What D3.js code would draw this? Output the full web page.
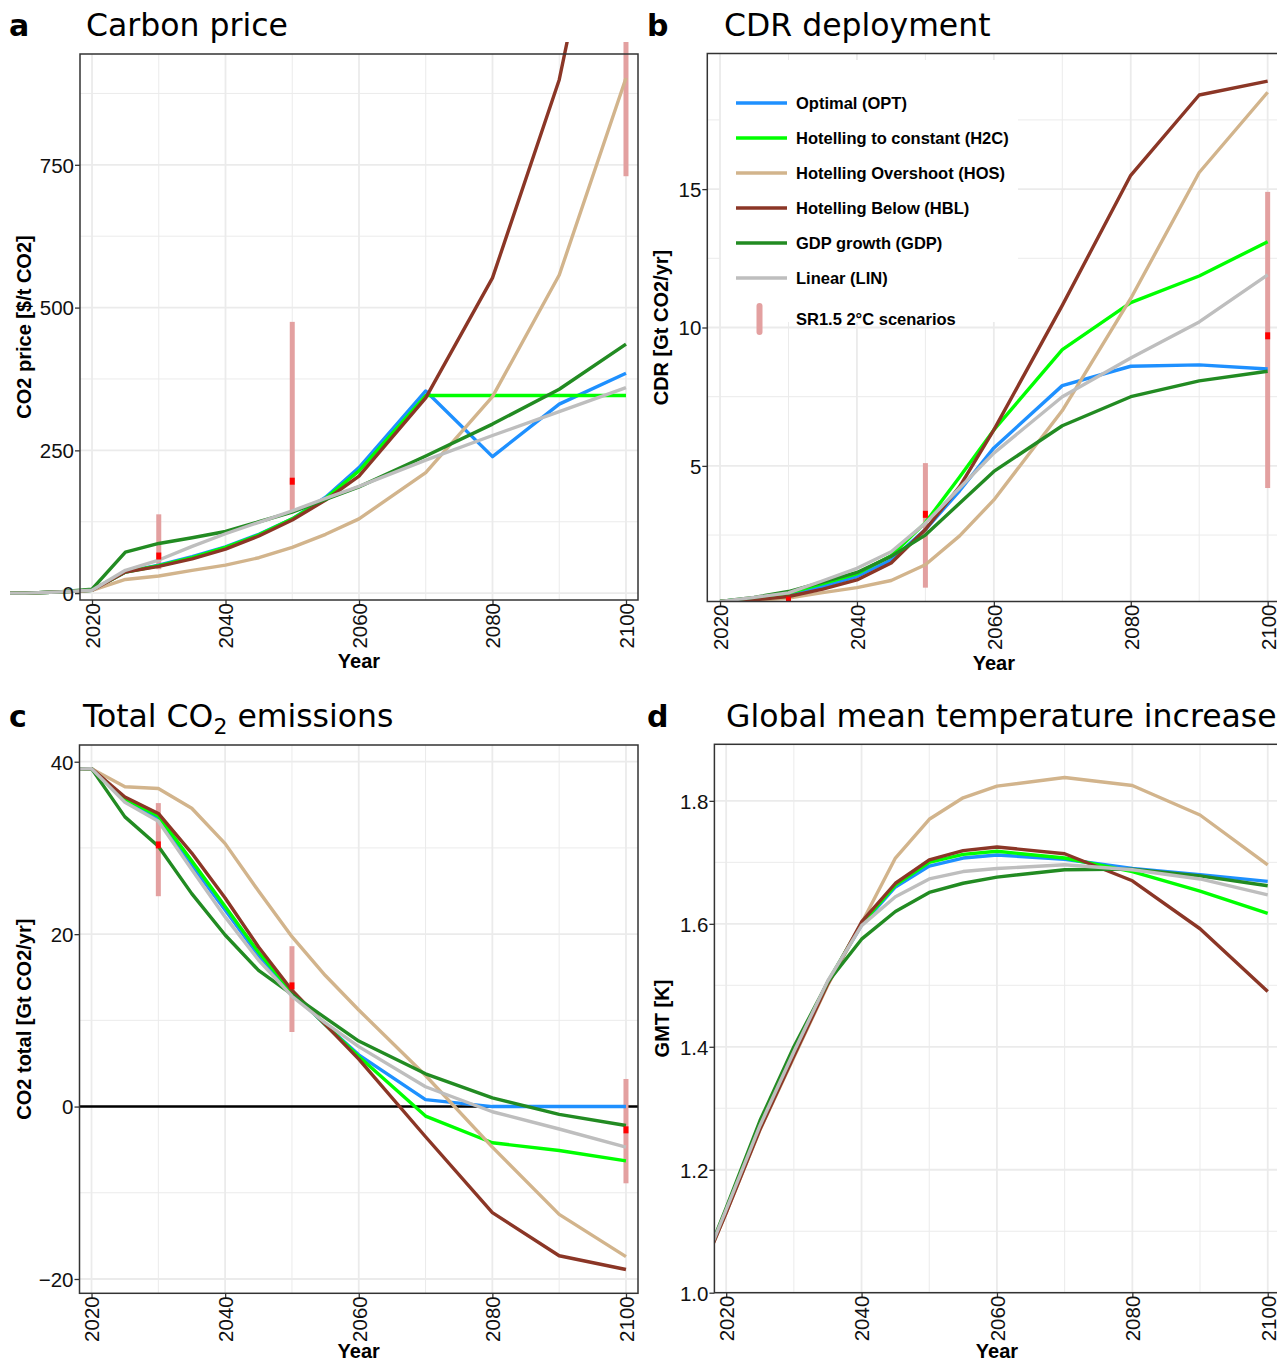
<!DOCTYPE html>
<html>
<head>
<meta charset="utf-8">
<script src="https://cdn.jsdelivr.net/npm/d3@7"></script>
<style>
  body { margin: 0; background: #fff; }
  svg { display: block; }
</style>
</head>
<body>
<svg id="chart" width="1277" height="1363"></svg>
<script>
// ---- data ----
const seriesNames = ["Optimal (OPT)", "Hotelling to constant (H2C)", "Hotelling Overshoot (HOS)",
                     "Hotelling Below (HBL)", "GDP growth (GDP)", "Linear (LIN)"];
const seriesColors = ["#1e90ff", "#00ff00", "#d2b48c", "#8b3626", "#228b22", "#bebebe"];

// a: carbon price [$/t CO2]
const priceYears = [2005, 2010, 2015, 2020, 2025, 2030, 2035, 2040, 2045, 2050, 2055, 2060, 2070, 2080, 2090, 2100];
const priceOPT = [0, 0, 2, 5, 37, 49, 64, 81, 103, 130, 168, 220, 354, 239, 331, 385];
const priceH2C = [0, 0, 2, 5, 37, 48, 62, 80, 102, 130, 166, 214, 346, 346, 346, 346];
const priceHOS = [0, 0, 2, 5, 24, 30, 40, 49, 62, 80, 103, 130, 211, 344, 557, 902];
const priceHBL = [0, 0, 2, 5, 37, 47, 60, 77, 100, 128, 163, 205, 342, 552, 899, 1460];
const priceGDP = [0, 0, 2, 7, 72, 87, 97, 108, 125, 142, 164, 186, 240, 296, 357, 436];
const priceLIN = [0, 0, 2, 5, 40, 58, 82, 104, 124, 144, 166, 187, 233, 276, 318, 360];

// b: CDR [Gt CO2/yr]
const cdrYears = [2020, 2025, 2030, 2035, 2040, 2045, 2050, 2055, 2060, 2070, 2080, 2090, 2100];
const cdrOPT = [0.1, 0.22, 0.36, 0.65, 1.0, 1.6, 2.7, 4.1, 5.65, 7.9, 8.6, 8.65, 8.5];
const cdrH2C = [0.1, 0.23, 0.4, 0.75, 1.1, 1.75, 2.95, 4.6, 6.3, 9.2, 10.9, 11.86, 13.1];
const cdrHOS = [0.1, 0.15, 0.22, 0.42, 0.6, 0.86, 1.43, 2.47, 3.77, 7.0, 11.05, 15.6, 18.5];
const cdrHBL = [0.1, 0.16, 0.28, 0.55, 0.88, 1.49, 2.7, 4.25, 6.3, 10.8, 15.5, 18.4, 18.9];
const cdrGDP = [0.1, 0.25, 0.46, 0.8, 1.15, 1.73, 2.5, 3.65, 4.8, 6.45, 7.5, 8.07, 8.42];
const cdrLIN = [0.1, 0.25, 0.41, 0.85, 1.3, 1.9, 2.93, 4.2, 5.46, 7.5, 8.9, 10.2, 11.9];

// c: total CO2 emissions [Gt CO2/yr]
const emisYears = [2015, 2020, 2025, 2030, 2035, 2040, 2045, 2050, 2055, 2060, 2070, 2080, 2090, 2100];
const emisOPT = [39.1, 39.2, 35.6, 33.4, 28.0, 22.8, 17.5, 13.2, 9.5, 6.0, 0.8, 0.0, 0.0, 0.0];
const emisH2C = [39.1, 39.2, 35.7, 33.7, 28.5, 23.2, 17.9, 13.3, 9.5, 5.8, -1.1, -4.2, -5.1, -6.3];
const emisHOS = [39.1, 39.2, 37.1, 36.9, 34.6, 30.5, 25.0, 19.7, 15.2, 11.2, 3.6, -4.7, -12.5, -17.4];
const emisHBL = [39.1, 39.2, 35.9, 34.0, 29.4, 24.2, 18.5, 13.5, 9.5, 5.5, -3.5, -12.3, -17.3, -18.9];
const emisGDP = [39.1, 39.2, 33.6, 30.2, 24.7, 19.9, 15.8, 13.0, 10.3, 7.6, 3.8, 1.0, -0.9, -2.2];
const emisLIN = [39.1, 39.2, 35.3, 33.1, 27.5, 22.0, 17.0, 12.8, 9.7, 6.95, 2.3, -0.6, -2.6, -4.7];

// d: global mean temperature [K]
const tempYears = [2015, 2020, 2025, 2030, 2035, 2040, 2045, 2050, 2055, 2060, 2070, 2080, 2090, 2100];
const tempOPT = [1.0, 1.133, 1.27, 1.39, 1.505, 1.598, 1.66, 1.694, 1.707, 1.712, 1.705, 1.690, 1.680, 1.669];
const tempH2C = [1.0, 1.133, 1.27, 1.39, 1.505, 1.600, 1.663, 1.700, 1.713, 1.718, 1.707, 1.685, 1.653, 1.617];
const tempHOS = [1.0, 1.130, 1.265, 1.383, 1.500, 1.601, 1.707, 1.770, 1.805, 1.824, 1.838, 1.825, 1.777, 1.696];
const tempHBL = [1.0, 1.130, 1.266, 1.385, 1.502, 1.603, 1.666, 1.704, 1.719, 1.725, 1.714, 1.670, 1.592, 1.490];
const tempGDP = [1.0, 1.138, 1.28, 1.40, 1.505, 1.575, 1.620, 1.651, 1.666, 1.676, 1.688, 1.689, 1.678, 1.662];
const tempLIN = [1.0, 1.135, 1.272, 1.392, 1.507, 1.597, 1.644, 1.673, 1.685, 1.690, 1.696, 1.688, 1.673, 1.647];

// SR1.5 2°C scenario ranges (low / high / median)
const srYears = [2030, 2050, 2100];
const srPriceLow = [42, 145, 730], srPriceHigh = [138, 475, 1500], srPriceMed = [65, 196, 1100];
const srCdrLow = [0, 0.6, 4.2], srCdrHigh = [0.4, 5.1, 14.9], srCdrMed = [0.15, 3.25, 9.7];
const srEmisLow = [24.4, 8.65, -8.9], srEmisHigh = [35.2, 18.6, 3.2], srEmisMed = [30.35, 14.0, -2.7];

const yearTicks = [2020, 2040, 2060, 2080, 2100];
const yearMinor = [2030, 2050, 2070, 2090];

// ---- drawing ----
const svg = d3.select("#chart");
const defs = svg.append("defs");
const tickFont = "'Liberation Sans', Arial, sans-serif";
const titleFont = "'DejaVu Sans', sans-serif";

function drawPanel(p) {
  const x = d3.scaleLinear().domain(p.xDomain).range([p.left, p.right]);
  const y = d3.scaleLinear().domain(p.yDomain).range([p.bottom, p.top]);
  const g = svg.append("g");

  // grid
  const grid = g.append("g");
  grid.selectAll("line.ymin").data(p.yMinor).enter().append("line")
    .attr("x1", p.left).attr("x2", p.right)
    .attr("y1", d => y(d)).attr("y2", d => y(d))
    .attr("stroke", "#ebebeb").attr("stroke-width", 1);
  grid.selectAll("line.xmin").data(yearMinor).enter().append("line")
    .attr("x1", d => x(d)).attr("x2", d => x(d))
    .attr("y1", p.top).attr("y2", p.bottom)
    .attr("stroke", "#ebebeb").attr("stroke-width", 1);
  grid.selectAll("line.ymaj").data(p.yTicks).enter().append("line")
    .attr("x1", p.left).attr("x2", p.right)
    .attr("y1", d => y(d)).attr("y2", d => y(d))
    .attr("stroke", "#ebebeb").attr("stroke-width", 1.8);
  grid.selectAll("line.xmaj").data(yearTicks).enter().append("line")
    .attr("x1", d => x(d)).attr("x2", d => x(d))
    .attr("y1", p.top).attr("y2", p.bottom)
    .attr("stroke", "#ebebeb").attr("stroke-width", 1.8);

  if (p.zeroLine) {
    g.append("line")
      .attr("x1", p.left).attr("x2", p.right)
      .attr("y1", y(0)).attr("y2", y(0))
      .attr("stroke", "#000").attr("stroke-width", 2.6);
  }

  const clipId = "clip-" + p.letter;
  defs.append("clipPath").attr("id", clipId).append("rect")
    .attr("x", p.clip[0]).attr("y", p.clip[1])
    .attr("width", p.clip[2] - p.clip[0]).attr("height", p.clip[3] - p.clip[1]);
  const plot = g.append("g").attr("clip-path", `url(#${clipId})`);

  // SR1.5 ranges under the lines
  if (p.sr) {
    plot.selectAll("rect.srbar").data(srYears).enter().append("rect")
      .attr("x", d => x(d) - 2.5).attr("width", 5)
      .attr("y", (d, i) => y(p.sr.high[i]))
      .attr("height", (d, i) => y(p.sr.low[i]) - y(p.sr.high[i]))
      .attr("fill", "#e3a0a0");
  }

  const line = d3.line().x(d => x(d[0])).y(d => y(d[1]));
  plot.selectAll("path.series").data(p.series).enter().append("path")
    .attr("d", vals => line(p.years.map((yr, i) => [yr, vals[i]])))
    .attr("fill", "none")
    .attr("stroke", (d, i) => seriesColors[i])
    .attr("stroke-width", 3.4)
    .attr("stroke-linejoin", "round");

  if (p.sr) {
    plot.selectAll("rect.srmed").data(srYears).enter().append("rect")
      .attr("x", d => x(d) - 2.5).attr("width", 5)
      .attr("y", (d, i) => y(p.sr.med[i]) - 3.5).attr("height", 7)
      .attr("fill", "#ff0000");
  }

  // border
  g.append("rect")
    .attr("x", p.left).attr("y", p.top)
    .attr("width", p.right - p.left).attr("height", p.bottom - p.top)
    .attr("fill", "none").attr("stroke", "#333").attr("stroke-width", 1.5);

  // axes
  const yAxis = g.append("g").attr("transform", `translate(${p.left},0)`)
    .call(d3.axisLeft(y).tickValues(p.yTicks).tickSize(5).tickPadding(1).tickFormat(p.fmt));
  const xAxis = g.append("g").attr("transform", `translate(0,${p.bottom})`)
    .call(d3.axisBottom(x).tickValues(yearTicks).tickSize(5).tickFormat(d3.format("d")));
  [yAxis, xAxis].forEach(a => {
    a.select(".domain").remove();
    a.selectAll(".tick line").attr("stroke", "#333").attr("stroke-width", 1.3);
    a.selectAll(".tick text").attr("fill", "#111")
      .style("font-family", tickFont).style("font-size", "20.5px");
  });
  yAxis.selectAll(".tick text").attr("dy", "0.36em");
  xAxis.selectAll(".tick text")
    .attr("transform", "rotate(-90)")
    .attr("x", -3).attr("y", 0).attr("dy", "0.36em")
    .attr("text-anchor", "end");

  // axis titles
  g.append("text")
    .attr("transform", `translate(${p.yLabelX},${(p.top + p.bottom) / 2}) rotate(-90)`)
    .attr("text-anchor", "middle")
    .style("font-family", tickFont).style("font-size", "20px").style("font-weight", "bold")
    .text(p.yLabel);
  g.append("text")
    .attr("x", (p.left + p.right) / 2).attr("y", p.bottom + p.yearGap)
    .attr("text-anchor", "middle")
    .style("font-family", tickFont).style("font-size", "20px").style("font-weight", "bold")
    .text("Year");

  // panel letter and title
  svg.append("text")
    .attr("x", p.letterX).attr("y", p.titleY)
    .style("font-family", titleFont).style("font-size", "30px").style("font-weight", "bold")
    .text(p.letter);
  const t = svg.append("text")
    .attr("x", p.titleX).attr("y", p.titleY)
    .style("font-family", titleFont).style("font-size", "31.5px");
  p.title.forEach(part => {
    const ts = t.append("tspan").text(part.text);
    if (part.sub) ts.attr("dy", 7).style("font-size", "22px");
    if (part.after) ts.attr("dy", -7);
  });

  return { x, y };
}

drawPanel({
  letter: "a", letterX: 9, titleX: 86, titleY: 36,
  title: [{ text: "Carbon price" }],
  left: 80, right: 638, top: 54, bottom: 600, yearGap: 68,
  xDomain: [2018.2, 2101.8], yDomain: [-12, 944],
  yTicks: [0, 250, 500, 750], yMinor: [125, 375, 625, 875], fmt: d3.format("d"),
  clip: [10, 42, 640, 600],
  years: priceYears,
  series: [priceOPT, priceH2C, priceHOS, priceHBL, priceGDP, priceLIN],
  sr: { low: srPriceLow, high: srPriceHigh, med: srPriceMed },
  yLabel: "CO2 price [$/t CO2]", yLabelX: 31
});

drawPanel({
  letter: "b", letterX: 647, titleX: 724, titleY: 36,
  title: [{ text: "CDR deployment" }],
  left: 707.3, right: 1280.4, top: 53.5, bottom: 601.5, yearGap: 68,
  xDomain: [2018.14, 2101.86], yDomain: [0.1, 19.9],
  yTicks: [5, 10, 15], yMinor: [2.5, 7.5, 12.5, 17.5], fmt: d3.format("d"),
  clip: [707.3, 53.5, 1280.4, 601.5],
  years: cdrYears,
  series: [cdrOPT, cdrH2C, cdrHOS, cdrHBL, cdrGDP, cdrLIN],
  sr: { low: srCdrLow, high: srCdrHigh, med: srCdrMed },
  yLabel: "CDR [Gt CO2/yr]", yLabelX: 668
});

drawPanel({
  letter: "c", letterX: 9, titleX: 83, titleY: 727,
  title: [{ text: "Total CO" }, { text: "2", sub: true }, { text: " emissions", after: true }],
  left: 79.5, right: 638, top: 745, bottom: 1293.3, yearGap: 64.5,
  xDomain: [2018.2, 2101.8], yDomain: [-21.66, 41.94],
  yTicks: [-20, 0, 20, 40], yMinor: [-10, 10, 30], fmt: d => d < 0 ? "\u2212" + Math.abs(d) : String(d),
  clip: [79.5, 745, 638, 1293.3],
  zeroLine: true,
  years: emisYears,
  series: [emisOPT, emisH2C, emisHOS, emisHBL, emisGDP, emisLIN],
  sr: { low: srEmisLow, high: srEmisHigh, med: srEmisMed },
  yLabel: "CO2 total [Gt CO2/yr]", yLabelX: 31
});

drawPanel({
  letter: "d", letterX: 647, titleX: 726, titleY: 727,
  title: [{ text: "Global mean temperature increase" }],
  left: 714.4, right: 1279.5, top: 744.3, bottom: 1292.7, yearGap: 65,
  xDomain: [2018.26, 2101.74], yDomain: [1.0, 1.892],
  yTicks: [1.0, 1.2, 1.4, 1.6, 1.8], yMinor: [1.1, 1.3, 1.5, 1.7], fmt: d3.format(".1f"),
  clip: [714.4, 744.3, 1279.5, 1292.7],
  years: tempYears,
  series: [tempOPT, tempH2C, tempHOS, tempHBL, tempGDP, tempLIN],
  yLabel: "GMT [K]", yLabelX: 669
});

// legend inside panel b
const legend = svg.append("g");
legend.append("rect")
  .attr("x", 721).attr("y", 60).attr("width", 297).attr("height", 262)
  .attr("fill", "#fff");
const rowY = d3.scalePoint().domain(d3.range(seriesNames.length)).range([103, 278]);
const rows = legend.selectAll("g.row").data(seriesNames).enter().append("g")
  .attr("transform", (d, i) => `translate(0,${rowY(i)})`);
rows.append("line")
  .attr("x1", 736).attr("x2", 787).attr("y1", 0).attr("y2", 0)
  .attr("stroke", (d, i) => seriesColors[i]).attr("stroke-width", 3.6);
rows.append("text")
  .attr("x", 796).attr("dy", "0.36em")
  .style("font-family", tickFont).style("font-size", "16.5px").style("font-weight", "bold")
  .text(d => d);
legend.append("line")
  .attr("x1", 759.5).attr("x2", 759.5).attr("y1", 306).attr("y2", 332)
  .attr("stroke", "#e3a0a0").attr("stroke-width", 6).attr("stroke-linecap", "round");
legend.append("text")
  .attr("x", 796).attr("y", 319).attr("dy", "0.36em")
  .style("font-family", tickFont).style("font-size", "16.5px").style("font-weight", "bold")
  .text("SR1.5 2°C scenarios");
</script>
</body>
</html>
